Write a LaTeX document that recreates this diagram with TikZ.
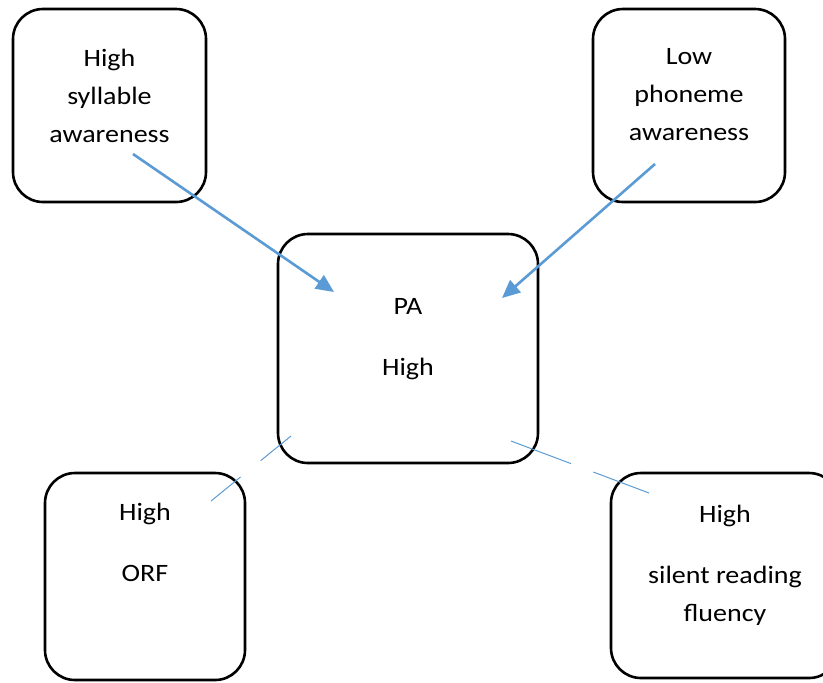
\documentclass[tikz,border=0pt]{standalone}
\usepackage{fontspec}
\setmainfont{Carlito}[FakeStretch=1.12]
\usetikzlibrary{arrows.meta, positioning}
\definecolor{linkblue}{HTML}{5B9BD5}

\begin{document}
\begin{tikzpicture}[
  x=0.5pt, y=-0.5pt,
  font=\fontsize{12.5}{19}\selectfont,
  box/.style={draw, line width=1.3pt, rounded corners=15pt, inner sep=0pt},
  lbl/.style={align=center, inner sep=0pt},
  arr/.style={-{Triangle[length=9pt, width=8pt]}, color=linkblue, line width=1.3pt},
  link/.style={color=linkblue, line width=0.5pt},
]
\clip (0,0) rectangle (823,682);
% boxes
\node[box, minimum width=96.5pt, minimum height=96.5pt] (syl) at (109.5,105.5) {};
\node[box, minimum width=96pt, minimum height=96.5pt] (pho) at (689,105.5) {};
\node[box, minimum width=130pt, minimum height=114.5pt] (pa) at (408,348.5) {};
\node[box, minimum width=100pt, minimum height=103.5pt] (orf) at (145,576.5) {};
\node[box, minimum width=114pt, minimum height=102.5pt] (srf) at (725,575.5) {};
% texts
\node[lbl, below=16pt of syl.north] (syl-txt) {\strut High\\syllable\\awareness};
\node[lbl, below=15pt of pho.north] (pho-txt) {\strut Low\\phoneme\\awareness};
\node[lbl, below=27.5pt of pa.north] (pa-txt) {\strut PA\\[11.5pt]High};
\node[lbl, below=11pt of orf.north] (orf-txt) {\strut High\\[11.5pt]ORF};
\node[lbl, below=12pt of srf.north] (srf-txt) {\strut High\\[11.5pt]silent reading\\fluency};
% connector ends
\coordinate (syl-out) at (133,154);
\coordinate (pa-in1) at (334,292);
\coordinate (pho-out) at (655,164);
\coordinate (pa-in2) at (502,298);
\coordinate (pa-out1) at (291,436);
\coordinate (orf-in) at (211,501);
\coordinate (pa-out2) at (511,441);
\coordinate (srf-in) at (649,493);
% connectors
\draw[arr] (syl-out) -- (pa-in1);
\draw[arr] (pho-out) -- (pa-in2);
\draw[link, dash pattern=on 19.5pt off 13pt] (pa-out1) -- (orf-in);
\draw[link, dash pattern=on 32pt off 12pt] (pa-out2) -- (srf-in);
\end{tikzpicture}
\end{document}
